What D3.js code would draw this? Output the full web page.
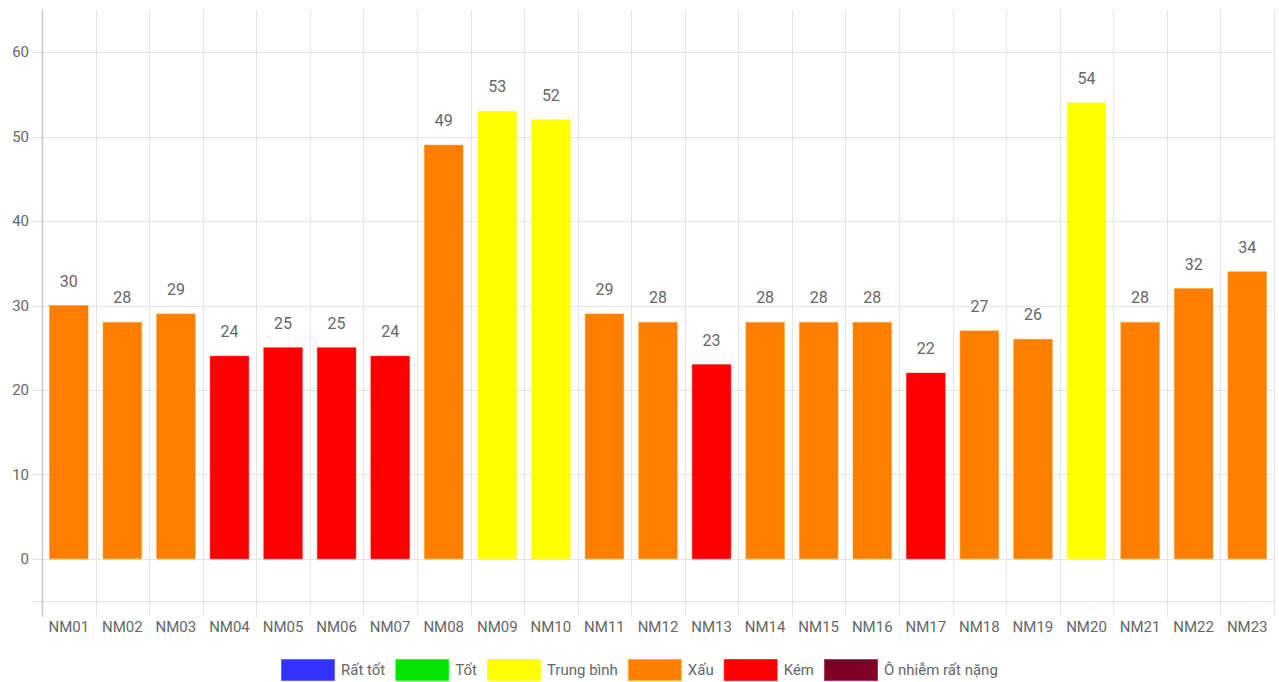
<!DOCTYPE html>
<html>
<head>
<meta charset="utf-8">
<script src="https://cdn.jsdelivr.net/npm/d3@7/dist/d3.min.js"></script>
<style>
  body { margin: 0; background: #fff; }
  text { font-family: Roboto, Arial, sans-serif; fill: #666; }
</style>
</head>
<body>
<script>
'use strict';

var stations = ['NM01', 'NM02', 'NM03', 'NM04', 'NM05', 'NM06', 'NM07', 'NM08', 'NM09', 'NM10', 'NM11', 'NM12',
                'NM13', 'NM14', 'NM15', 'NM16', 'NM17', 'NM18', 'NM19', 'NM20', 'NM21', 'NM22', 'NM23'];
var values   = [30, 28, 29, 24, 25, 25, 24, 49, 53, 52, 29, 28, 23, 28, 28, 28, 22, 27, 26, 54, 28, 32, 34];
var levels   = ['Xấu', 'Xấu', 'Xấu', 'Kém', 'Kém', 'Kém', 'Kém', 'Xấu', 'Trung bình', 'Trung bình', 'Xấu', 'Xấu',
                'Kém', 'Xấu', 'Xấu', 'Xấu', 'Kém', 'Xấu', 'Xấu', 'Trung bình', 'Xấu', 'Xấu', 'Xấu'];
var legendNames  = ['Rất tốt', 'Tốt', 'Trung bình', 'Xấu', 'Kém', 'Ô nhiễm rất nặng'];
var legendColors = ['#3333ff', '#00e400', '#ffff00', '#ff7e00', '#ff0000', '#7e0023'];
var yTicks = [0, 10, 20, 30, 40, 50, 60];

var width  = 1279;
var height = 682;

var plotLeft = 42, plotRight = 1274, plotTop = 10, plotBottom = 601;

var svg = d3.select('body').append('svg')
    .attr('width', width)
    .attr('height', height);

var x = d3.scaleBand()
    .domain(stations)
    .range([plotLeft, plotRight]);

var y = d3.scaleLinear()
    .domain([-5, 65])
    .range([plotBottom, plotTop]);

var color = d3.scaleOrdinal()
    .domain(legendNames)
    .range(legendColors);

// horizontal grid
svg.append('g')
  .selectAll('line')
  .data(yTicks.concat([-5]))
  .enter().append('line')
    .attr('x1', plotLeft - 10)
    .attr('x2', plotRight)
    .attr('y1', function(d) { return Math.round(y(d)) + 0.5; })
    .attr('y2', function(d) { return Math.round(y(d)) + 0.5; })
    .attr('stroke', '#e5e5e5');

// vertical grid at category boundaries
var bounds = stations.map(function(s) { return x(s); }).concat([plotRight]);
svg.append('g')
  .selectAll('line')
  .data(bounds)
  .enter().append('line')
    .attr('x1', function(d) { return Math.round(d) + 0.5; })
    .attr('x2', function(d) { return Math.round(d) + 0.5; })
    .attr('y1', plotTop)
    .attr('y2', plotBottom + 16)
    .attr('stroke', function(d, i) { return i === 0 ? '#c8c8c8' : '#e5e5e5'; })
    .attr('stroke-width', function(d, i) { return i === 0 ? 1.5 : 1; });

// y axis labels
svg.append('g')
  .selectAll('text')
  .data(yTicks)
  .enter().append('text')
    .attr('x', 29)
    .attr('y', function(d) { return y(d); })
    .attr('dy', '0.35em')
    .attr('text-anchor', 'end')
    .attr('font-size', 15)
    .text(function(d) { return d; });

// x axis labels
svg.append('g')
  .selectAll('text')
  .data(stations)
  .enter().append('text')
    .attr('x', function(d) { return x(d) + x.bandwidth() / 2; })
    .attr('y', 632)
    .attr('text-anchor', 'middle')
    .attr('font-size', 15)
    .text(function(d) { return d; });

// bars
var barW = x.bandwidth() * 0.72;
svg.append('g')
  .selectAll('rect')
  .data(values)
  .enter().append('rect')
    .attr('x', function(d, i) { return x(stations[i]) + (x.bandwidth() - barW) / 2; })
    .attr('y', function(d) { return y(d); })
    .attr('width', barW)
    .attr('height', function(d) { return y(0) - y(d); })
    .attr('fill', function(d, i) { return color(levels[i]); })
    .attr('stroke', function(d, i) { return d3.color(color(levels[i])).brighter(0.5); })
    .attr('stroke-opacity', 0.5);

// value labels
svg.append('g')
  .selectAll('text')
  .data(values)
  .enter().append('text')
    .attr('x', function(d, i) { return x(stations[i]) + x.bandwidth() / 2; })
    .attr('y', function(d) { return y(d) - 19; })
    .attr('text-anchor', 'middle')
    .attr('font-size', 16)
    .text(function(d) { return d; });

// legend
var legend = svg.append('g');
var lx = 0;
legendNames.forEach(function(name, i) {
  var g = legend.append('g').attr('transform', 'translate(' + lx + ',0)');
  g.append('rect')
    .attr('x', 0.5).attr('y', 659.5)
    .attr('width', 53).attr('height', 21)
    .attr('fill', legendColors[i])
    .attr('stroke', d3.color(legendColors[i]).brighter(0.8))
    .attr('stroke-opacity', 0.6);
  var t = g.append('text')
    .attr('x', 60).attr('y', 670)
    .attr('dy', '0.35em')
    .attr('font-size', 15)
    .text(name);
  lx += 60 + t.node().getComputedTextLength() + 10;
});
legend.attr('transform', 'translate(' + Math.round(width / 2 - (lx - 10) / 2) + ',0)');
</script>
</body>
</html>
